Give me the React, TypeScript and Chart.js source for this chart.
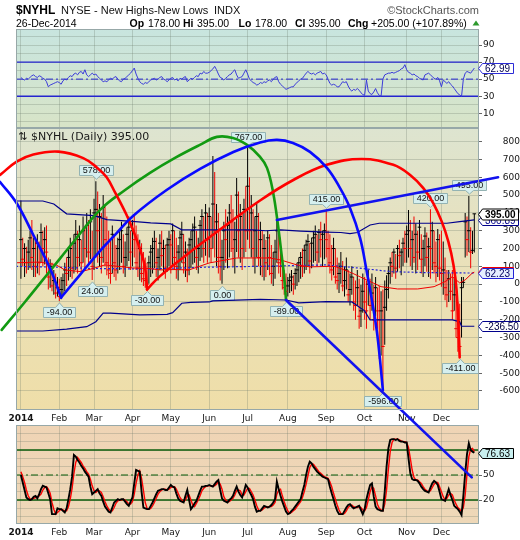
import React, { useEffect, useRef } from 'react';
import { Chart, registerables } from 'chart.js';

Chart.register(...registerables);

/* ---------- calendar (trading-day index of each month's first session) ---------- */
const MONTH_LABELS = ['2014', 'Feb', 'Mar', 'Apr', 'May', 'Jun', 'Jul', 'Aug', 'Sep', 'Oct', 'Nov', 'Dec'];
const MONTH_START = [0, 21, 40, 61, 82, 103, 124, 146, 167, 188, 211, 230];

/* ---------- daily $NYHL bars, one row per month ---------- */
const HIGH = [
  470, 260, 230, 210, 250, 300, 360, 260, 250, 280, 240, 340, 300, 320, 330, 150, 140, 120, 80, 60, 40,
  30, 40, 60, 120, 150, 200, 260, 220, 280, 360, 300, 330, 250, 380, 320, 400, 360, 420, 300,
  480, 578, 520, 450, 400, 500, 440, 380, 300, 250, 330, 280, 220, 260, 300, 350, 280, 240, 320, 380, 300,
  360, 390, 330, 280, 250, 230, 180, 150, 120, 160, 220, 260, 300, 260, 200, 280, 300, 250, 220, 260, 300,
  280, 340, 300, 260, 220, 300, 350, 280, 240, 200, 260, 300, 340, 380, 300, 260, 360, 420, 380, 450, 400,
  430, 380, 720, 630, 450, 400, 300, 250, 350, 420, 380, 450, 500, 420, 350, 596, 520, 450, 400, 480, 550,
  767, 600, 500, 420, 380, 450, 400, 350, 300, 280, 250, 300, 280, 220, 180, 250, 360, 300, 260, 150, 80, 60,
  40, 60, 80, 50, 90, 120, 150, 180, 200, 220, 250, 280, 230, 260, 300, 330, 280, 310, 350, 300, 340,
  415, 300, 280, 220, 260, 200, 150, 120, 180, 130, 100, 150, 80, 60, 100, 40, 20, 80, 30, 0, 60,
  40, 20, 80, 30, 60, 0, 40, -20, -10, -40, -30, 20, 50, 100, 150, 180, 200, 170, 220, 250, 200, 260, 300,
  330, 416, 360, 300, 380, 340, 300, 360, 280, 250, 320, 290, 260, 420, 350, 300, 240, 310, 280,
  300, 240, 150, 80, 80, 60, 80, 40, 0, -100, -110, 40, 40, 400, 380, 495, 320, 300, 395,
];
const LOW = [
  30, 100, 40, 60, 80, 90, 80, 40, 40, 60, 50, 120, 100, 110, 60, -30, -20, -40, -60, -80, -70,
  -94, -85, -60, -40, -10, 20, 40, 30, 60, 80, 60, 100, 70, 120, 90, 150, 110, 140, 24,
  80, 150, 120, 100, 60, 120, 100, 50, 30, 0, 60, 40, 20, 60, 80, 120, 60, 40, 100, 130, 80,
  100, 150, 80, 40, 20, 10, -10, -20, -30, 0, 40, 60, 90, 40, 20, 80, 100, 60, 30, 70, 100,
  60, 100, 80, 30, 20, 80, 120, 60, 40, 10, 50, 90, 110, 120, 80, 60, 130, 150, 120, 160, 120,
  150, 120, 200, 150, 100, 60, 20, 0, 80, 120, 90, 150, 180, 100, 60, 180, 150, 120, 80, 150, 180,
  250, 200, 150, 100, 60, 150, 100, 50, 40, 20, 40, 80, 50, 0, -10, 30, 120, 60, 40, -30, -60, -89,
  -70, -50, -40, -60, -30, -10, 10, 30, 40, 60, 80, 100, 60, 90, 120, 130, 100, 120, 150, 100, 140,
  150, 100, 60, 20, 50, 0, -30, -50, 0, -40, -70, -30, -100, -120, -60, -150, -200, -120, -250, -240, -160,
  -200, -250, -120, -200, -150, -260, -180, -250, -420, -400, -596, -340, -150, -80, 0, 40, 60, 30, 70, 90, 50, 100, 120,
  120, 150, 100, 80, 120, 60, 80, 140, 60, 40, 100, 70, 40, 30, 80, 60, 10, 40, 20,
  -15, -60, -90, -130, -100, -90, -200, -150, -300, -380, -411, -300, -20, 150, 160, 180, 90, 170, 178,
];
const CLOSE = [
  250, 140, 200, 120, 180, 260, 150, 200, 100, 230, 120, 290, 200, 250, 180, 40, 100, -10, 20, -50, -20,
  -70, -30, 20, 80, 60, 150, 200, 90, 230, 280, 150, 250, 120, 300, 200, 330, 180, 350, 100,
  400, 420, 300, 380, 150, 430, 250, 120, 80, 60, 280, 120, 80, 200, 250, 300, 100, 150, 280, 320, 180,
  300, 250, 120, 90, 200, 60, 30, 20, 0, 120, 180, 200, 240, 120, 150, 230, 160, 200, 90, 220, 250,
  220, 300, 150, 100, 180, 260, 280, 120, 180, 80, 220, 250, 300, 320, 150, 200, 330, 380, 200, 400, 250,
  380, 200, 450, 300, 350, 150, 100, 150, 300, 250, 330, 400, 350, 200, 250, 500, 300, 380, 200, 420, 300,
  550, 300, 400, 200, 300, 380, 150, 250, 100, 200, 120, 260, 150, 60, 100, 180, 300, 120, 100, 20, -20, -40,
  -10, 20, 40, 0, 60, 80, 120, 150, 100, 190, 220, 240, 130, 230, 260, 280, 180, 290, 250, 280, 300,
  250, 200, 120, 80, 200, 40, 20, 60, 100, -10, 20, 80, -60, -30, 40, -100, -120, -20, -180, -150, -40,
  -100, -150, 0, -120, -50, -200, -20, -150, -200, -150, -350, -130, -30, 60, 120, 100, 180, 90, 200, 160, 180, 230, 200,
  280, 300, 200, 250, 150, 280, 180, 320, 140, 200, 270, 150, 210, 200, 300, 120, 100, 250, 90,
  60, 80, -20, -60, 30, -40, -150, -60, -250, -300, -350, -20, 10, 350, 250, 300, 180, 190, 395,
];
const LAST_OPEN = 178;

/* sessions whose high / low carry a value callout */
const HIGH_MARKS = [41, 124, 167, 224, 245];
const LOW_MARKS = [21, 39, 69, 110, 145, 198, 240];

/* ---------- overlays: day index and value ---------- */
const UPPER_AT = [-2.68, 12, 18, 25, 40, 47, 61, 71, 82, 88, 127, 134, 142, 153, 167, 175, 180, 184, 191, 196, 233, 240, 248];
const UPPER_VAL = [467, 467, 450, 395, 385, 362, 352, 344, 338, 305, 305, 300, 305, 298, 292, 290, 284, 290, 332, 342, 342, 351, 360.89];
const LOWER_AT = [-2.68, 12, 25, 36, 41, 45, 49, 65, 80, 83, 88, 93, 103, 105, 131, 145, 152, 167, 181, 188, 191, 236, 240, 241, 248];
const LOWER_VAL = [-263, -263, -253, -239, -211, -163, -163, -173, -170, -160, -107, -102, -100, -94, -85, -89, -105, -98, -100, -150, -201, -201, -211, -236.5, -236.5];
const MA_AT = [-2.68, 10, 19, 24, 33, 40, 46, 61, 70, 76, 84, 92, 103, 118, 136, 142, 151, 158, 169, 172, 181, 188, 197, 206, 217, 226, 232, 236, 240, 243, 247, 248];
const MA_VAL = [120, 124, 110, 80, 70, 90, 108, 91, 88, 80, 82, 80, 119, 147, 147, 136, 108, 97, 100, 99, 63, 29, -14, -27, -27, -14, 14, 42, 7, 24, 63, 67.4];
const MID_AT = [-2.68, 20, 40, 70, 100, 130, 167, 184, 203, 221, 248];
const MID_VAL = [100, 95, 88, 85, 95, 100, 108, 91, 70, 65, 62.23];

/* ---------- drawn arcs and trendlines: [day index, value] ---------- */
const ARC_RED_1 = [
  [-11.4, 613], [-2.3, 688], [6.8, 728], [20.5, 744], [34.1, 708], [41.5, 655], [46.9, 600],
  [51.5, 515], [57.5, 395], [61.5, 300], [65.2, 195], [67.9, 95], [69, LOW[69]],
];
const ARC_RED_2 = [
  [69, LOW[69]], [76.1, 45], [90, 160], [110, 315], [130.8, 470], [149, 585], [167.3, 670], [186.4, 703],
  [203.7, 670], [212.9, 613], [220.1, 539], [225.6, 454], [230.2, 351], [233.8, 239], [236.6, 108],
  [238.3, -33], [240, LOW[240]],
];
const ARC_GREEN = [
  [-10.5, -257], [2.2, -100], [15.9, 74], [29.6, 248], [43.3, 417], [57, 529], [70.6, 625], [84.3, 709],
  [97.9, 782], [107.2, 827], [116, 821], [123.7, 782], [130.8, 715], [134.6, 653], [137.9, 518],
  [140.6, 333], [142.8, 147], [143.9, 52], [145, LOW[145]],
];
const ARC_BLUE_LEFT = [[-11.4, 574], [-2.3, 454], [6.8, 276], [15.9, 89], [22, -75]];
const ARC_BLUE = [
  [22, -75], [32.3, 52], [43.3, 187], [52, 282], [61.3, 383], [79.7, 529], [98, 647], [116.2, 742],
  [130.8, 796], [140.1, 810], [148.8, 793], [158.1, 743], [167.4, 653], [174.5, 541], [180, 428],
  [185.5, 260], [189, 80], [192, -90], [195, -290], [198, LOW[198]],
];
const TREND_UP = [[140, 360], [261, 600]];
const TREND_DOWN = [[145, LOW[145]], [246.6, -1085]];

/* ---------- RSI(14) ---------- */
const RSI = [
  52, 50, 49, 51, 50, 52, 54, 55, 53, 52, 54, 53, 51, 50, 47, 41, 43, 44, 45, 46, 47,
  46, 44, 48, 50, 49, 52, 54, 53, 56, 57, 55, 58, 59, 56, 61, 55, 53, 55, 57,
  55, 56, 53, 51, 49, 47, 48, 47, 49, 51, 50, 52, 53, 50, 48, 47, 50, 51, 53, 55, 57,
  60, 63, 56, 51, 47, 45, 44, 46, 45, 47, 49, 50, 51, 49, 50, 52, 53, 50, 49, 47, 49,
  51, 52, 49, 50, 48, 51, 50, 52, 53, 47, 49, 51, 50, 52, 54, 53, 57, 56, 59, 57, 57,
  58, 60, 62, 65, 61, 56, 52, 51, 49, 51, 53, 55, 56, 59, 61, 55, 51, 52, 53, 57, 61,
  56, 50, 48, 46, 45, 43, 44, 46, 45, 47, 46, 48, 49, 47, 50, 52, 53, 47, 44, 42, 40, 38,
  39, 40, 41, 41, 44, 46, 48, 50, 51, 54, 57, 59, 57, 56, 57, 55, 57, 58, 59, 56, 57,
  55, 50, 45, 43, 44, 43, 41, 41, 44, 47, 46, 47, 42, 38, 36, 38, 37, 39, 37, 34, 32,
  31, 49, 36, 33, 32, 35, 39, 34, 31, 30, 50, 55, 56, 57, 57, 58, 57, 58, 59, 60, 62, 63, 67,
  61, 58, 57, 55, 56, 54, 53, 51, 50, 49, 55, 56, 57, 55, 53, 51, 50, 52, 48,
  41, 49, 47, 45, 47, 44, 42, 39, 36, 33, 31.6, 29.6, 50, 57, 59, 58, 57, 60, 62.99,
];

/* ---------- slow stochastic %K / %D ---------- */
const STO_K = [
  50, 41, 32, 23, 21, 20, 21, 24, 25, 22, 27, 33, 37, 36, 35, 28, 21, 3, 3, 3, 10,
  9, 9, 7, 5, 10, 21, 33, 48, 74, 72, 68, 65, 61, 58, 54, 51, 48, 36, 27,
  29, 31, 33, 28, 25, 18, 12, 9, 6, 5, 11, 17, 19, 21, 20, 21, 21, 18, 15, 13, 18,
  23, 40, 56, 55, 54, 30, 11, 10, 9, 9, 13, 17, 22, 27, 31, 32, 33, 33, 32, 32, 35,
  38, 36, 35, 28, 22, 19, 18, 17, 25, 32, 20, 9, 12, 16, 19, 25, 31, 36, 36, 37, 37,
  38, 37, 36, 39, 42, 44, 32, 22, 19, 18, 17, 20, 22, 25, 31, 36, 30, 26, 23, 30, 38,
  35, 30, 26, 21, 12, 6, 7, 7, 10, 13, 12, 11, 12, 14, 17, 21, 42, 33, 25, 18, 12, 6,
  3, 4, 7, 9, 12, 15, 18, 21, 30, 38, 50, 60, 66, 64, 60, 57, 54, 52, 50, 48, 47,
  46, 45, 36, 28, 21, 13, 7, 3, 3, 3, 7, 11, 14, 15, 12, 10, 11, 12, 13, 8, 3,
  9, 21, 30, 38, 40, 24, 12, 9, 8, 7, 7, 30, 60, 82, 92, 93, 93, 92, 93, 91, 90, 90, 89,
  89, 70, 52, 45, 44, 44, 43, 40, 36, 33, 31, 30, 29, 35, 40, 43, 41, 38, 30,
  21, 20, 19, 26, 33, 26, 20, 13, 11, 9, 6, 2, 25, 52, 75, 88, 80, 78, 76.63,
];
const STO_D = [
  54, 48, 41, 32, 25, 21, 21, 22, 23, 24, 25, 27, 32, 35, 36, 33, 28, 17, 9, 3, 5,
  7, 9, 8, 7, 7, 12, 21, 34, 52, 65, 71, 68, 65, 61, 58, 54, 51, 45, 37,
  31, 29, 31, 31, 29, 24, 18, 13, 9, 7, 7, 11, 16, 19, 20, 20, 21, 20, 18, 15, 15,
  18, 27, 40, 50, 55, 46, 32, 17, 10, 9, 10, 13, 17, 22, 27, 30, 32, 33, 33, 32, 33,
  35, 36, 36, 33, 28, 23, 20, 18, 20, 25, 26, 20, 14, 12, 16, 20, 25, 31, 34, 36, 37,
  37, 37, 37, 37, 39, 42, 39, 33, 24, 20, 18, 18, 20, 22, 26, 31, 32, 31, 26, 26, 30,
  34, 34, 30, 26, 20, 13, 8, 7, 8, 10, 12, 12, 12, 12, 14, 17, 27, 32, 33, 25, 18, 12,
  7, 4, 5, 7, 9, 12, 15, 18, 23, 30, 39, 49, 59, 63, 63, 60, 57, 54, 52, 50, 48,
  47, 46, 42, 36, 28, 21, 14, 8, 4, 3, 4, 7, 11, 13, 14, 12, 11, 11, 12, 11, 8,
  7, 11, 20, 30, 36, 34, 25, 15, 10, 8, 7, 15, 32, 57, 78, 89, 93, 93, 93, 92, 91, 90, 90,
  89, 83, 70, 56, 47, 44, 44, 42, 40, 36, 33, 31, 30, 31, 35, 39, 41, 41, 36,
  30, 24, 20, 22, 26, 28, 26, 20, 15, 11, 9, 6, 11, 26, 51, 72, 81, 82, 78,
];

/* ---------- axis ticks ---------- */
const MAIN_TICKS = [-600, -500, -400, -300, -200, -100, 0, 100, 200, 300, 400, 500, 600, 700, 800];
const PCT_TICKS = [0, 10, 20, 30, 40, 50, 60, 70, 80, 90, 100];
const RSI_LABELS = [10, 30, 50, 70, 90];
const RSI_BANDS = [30, 70];
const STO_LABELS = [20, 50];
const STO_BANDS = [20, 80];

/* ---------- shared look ---------- */
const X_MIN = -2.68;
const X_MAX = 250.56;
const VERDANA = '"DejaVu Sans", Verdana, sans-serif';
const ARIAL = '"Liberation Sans", Arial, sans-serif';
const GRID = 'rgba(105,120,105,0.27)';
const FRAME = '#97a8a8';

Chart.defaults.font.family = VERDANA;

function xAxis(withLabels: boolean, height: number): any {
  return {
    type: 'linear',
    min: X_MIN,
    max: X_MAX,
    offset: false,
    bounds: 'data',
    afterBuildTicks: (s: any) => {
      s.ticks = MONTH_START.map((v) => ({ value: v }));
    },
    afterFit: (s: any) => {
      s.height = height;
    },
    grid: { color: GRID, lineWidth: 1, drawTicks: false, offset: false },
    border: { display: false },
    ticks: {
      display: withLabels,
      autoSkip: false,
      maxRotation: 0,
      minRotation: 0,
      padding: 3,
      color: '#151515',
      font: (c: any) => ({ family: VERDANA, size: 9, weight: c.tick && c.tick.value === 0 ? 'bold' : 'normal' }),
      callback: (v: number) => {
        const k = MONTH_START.indexOf(v);
        return k >= 0 ? MONTH_LABELS[k] : '';
      },
    },
  };
}

function yAxis(min: number, max: number, ticks: number[], labelled: (v: number) => boolean, crossAlign: string): any {
  return {
    type: 'linear',
    position: 'right',
    min,
    max,
    bounds: 'data',
    afterBuildTicks: (s: any) => {
      s.ticks = ticks.map((v) => ({ value: v }));
    },
    afterFit: (s: any) => {
      s.width = 41;
    },
    grid: {
      color: GRID,
      lineWidth: 1,
      drawTicks: true,
      tickLength: 3,
      tickColor: (c: any) => (c.tick && labelled(c.tick.value) ? '#666' : 'rgba(0,0,0,0)'),
    },
    border: { display: false },
    ticks: {
      autoSkip: false,
      padding: 1,
      color: '#151515',
      crossAlign,
      font: { family: VERDANA, size: 9 },
      callback: (v: number) => (labelled(v) ? String(v) : ''),
    },
  };
}

const baseOptions = (padding: any) => ({
  responsive: false,
  animation: false,
  devicePixelRatio: 1,
  events: [],
  layout: { padding },
  plugins: { legend: { display: false }, tooltip: { enabled: false }, title: { display: false } },
});

const lineSet = (data: any[], color: string, width: number, extra: any = {}) => ({
  type: 'line',
  data,
  borderColor: color,
  borderWidth: width,
  pointRadius: 0,
  pointHoverRadius: 0,
  pointHitRadius: 0,
  fill: false,
  tension: 0,
  ...extra,
});
const pts = (pairs: number[][]) => pairs.map(([x, y]) => ({ x, y }));
const zipPts = (xs: number[], ys: number[]) => xs.map((x, i) => ({ x, y: ys[i] }));
const level = (v: number) => [{ x: X_MIN, y: v }, { x: X_MAX, y: v }];
const series = (ys: number[]) => ys.map((y, i) => ({ x: i, y }));

function panel(id: string, stops: [number, string][]) {
  return {
    id,
    beforeDraw(chart: any) {
      const { ctx, chartArea: a } = chart;
      const g = ctx.createLinearGradient(0, a.top, 0, a.bottom);
      stops.forEach(([o, c]) => g.addColorStop(o, c));
      ctx.save();
      ctx.fillStyle = g;
      ctx.fillRect(a.left, a.top, a.right - a.left, a.bottom - a.top);
      ctx.restore();
    },
    afterDraw(chart: any) {
      const { ctx, chartArea: a } = chart;
      ctx.save();
      ctx.strokeStyle = FRAME;
      ctx.lineWidth = 1;
      ctx.strokeRect(a.left + 0.5, a.top + 0.5, a.right - a.left - 1, a.bottom - a.top - 1);
      ctx.restore();
    },
  };
}

/* value tag on the price axis, arrow pointing at the line's last value */
function tag(ctx: CanvasRenderingContext2D, xTip: number, y: number, text: string, o: any) {
  ctx.save();
  ctx.font = `${o.bold ? 'bold ' : ''}10px ${ARIAL}`;
  const w = Math.ceil(ctx.measureText(text).width) + 5;
  const h = o.bold ? 11 : 10;
  const yc = Math.round(y) + 0.5;
  const x0 = Math.round(xTip) + 4.5;
  ctx.beginPath();
  ctx.moveTo(Math.round(xTip) + 0.5, yc);
  ctx.lineTo(x0, yc - h / 2);
  ctx.lineTo(x0 + w, yc - h / 2);
  ctx.lineTo(x0 + w, yc + h / 2);
  ctx.lineTo(x0, yc + h / 2);
  ctx.closePath();
  ctx.fillStyle = o.fill;
  ctx.fill();
  ctx.lineWidth = 1;
  ctx.strokeStyle = o.stroke;
  ctx.stroke();
  ctx.fillStyle = o.color;
  ctx.textBaseline = 'middle';
  ctx.textAlign = 'left';
  ctx.fillText(text, x0 + 2.5, yc + 0.5);
  ctx.restore();
}

/* value callout for a marked high (above) or low (below) */
function callout(ctx: CanvasRenderingContext2D, x: number, yPt: number, text: string, below: boolean) {
  ctx.save();
  ctx.font = `9px ${ARIAL}`;
  const w = Math.round(ctx.measureText(text).width) + 6;
  const h = 10;
  const cx = Math.round(x) + 0.5;
  const tip = below ? yPt + 2 : yPt - 2;
  const top = Math.round(below ? tip + 4 : tip - 4 - h) + 0.5;
  const left = Math.round(x - w / 2) + 0.5;
  ctx.beginPath();
  if (below) {
    ctx.moveTo(left, top);
    ctx.lineTo(cx - 4, top);
    ctx.lineTo(cx, tip);
    ctx.lineTo(cx + 4, top);
    ctx.lineTo(left + w, top);
    ctx.lineTo(left + w, top + h);
    ctx.lineTo(left, top + h);
  } else {
    ctx.moveTo(left, top);
    ctx.lineTo(left + w, top);
    ctx.lineTo(left + w, top + h);
    ctx.lineTo(cx + 4, top + h);
    ctx.lineTo(cx, tip);
    ctx.lineTo(cx - 4, top + h);
    ctx.lineTo(left, top + h);
  }
  ctx.closePath();
  ctx.fillStyle = '#d6efef';
  ctx.fill();
  ctx.lineWidth = 1;
  ctx.strokeStyle = '#93b3b3';
  ctx.stroke();
  ctx.fillStyle = '#111';
  ctx.textAlign = 'center';
  ctx.textBaseline = 'middle';
  ctx.fillText(text, cx, top + h / 2 + 0.5);
  ctx.restore();
}

function drawHeading(ctx: CanvasRenderingContext2D) {
  const n = CLOSE.length;
  const chg = CLOSE[n - 1] - CLOSE[n - 2];
  const pct = (chg / CLOSE[n - 2]) * 100;
  const sign = (v: number) => (v >= 0 ? '+' : '');
  ctx.save();
  ctx.textBaseline = 'alphabetic';
  ctx.textAlign = 'left';
  ctx.fillStyle = '#000';
  ctx.font = `bold 12px ${ARIAL}`;
  ctx.fillText('$NYHL', 16, 14);
  ctx.font = `11px ${ARIAL}`;
  ctx.fillStyle = '#111';
  ctx.fillText('NYSE - New Highs-New Lows', 61, 14);
  ctx.fillText('INDX', 214, 14);
  ctx.fillStyle = '#555';
  ctx.textAlign = 'right';
  ctx.fillText('\u00A9StockCharts.com', 479, 14);
  ctx.textAlign = 'left';
  ctx.fillStyle = '#000';
  const row: [string, number, boolean][] = [
    ['26-Dec-2014', 16, false],
    ['Op', 129.5, true],
    [LAST_OPEN.toFixed(2), 148, false],
    ['Hi', 183, true],
    [HIGH[n - 1].toFixed(2), 197, false],
    ['Lo', 238.5, true],
    [LOW[n - 1].toFixed(2), 255, false],
    ['Cl', 295, true],
    [CLOSE[n - 1].toFixed(2), 308.5, false],
    ['Chg', 348, true],
    [`${sign(chg)}${chg.toFixed(2)} (${sign(pct)}${pct.toFixed(2)}%)`, 371, false],
  ];
  row.forEach(([t, x, b]) => {
    ctx.font = `${b ? 'bold ' : ''}10.5px ${ARIAL}`;
    ctx.fillText(t, x, 26.5);
  });
  ctx.fillStyle = '#2e9a2e';
  ctx.beginPath();
  ctx.moveTo(472.5, 25.5);
  ctx.lineTo(479.5, 25.5);
  ctx.lineTo(476, 20.5);
  ctx.closePath();
  ctx.fill();
  ctx.restore();
}

function makeRsi(canvas: HTMLCanvasElement) {
  return new Chart(canvas, {
    type: 'line',
    data: {
      datasets: [
        lineSet(series(RSI), '#3b3bd9', 1, { order: 1 }),
        ...RSI_BANDS.map((v) => lineSet(level(v), '#2525cf', 1.4, { order: 3 })),
        lineSet(level(50), '#2525cf', 1, { borderDash: [7, 3, 2, 3], order: 3 }),
      ],
    },
    options: {
      ...baseOptions({ left: 16, right: 0, top: 29, bottom: 10 }),
      scales: {
        x: xAxis(false, 0),
        y: yAxis(-7.3, 108.8, PCT_TICKS, (v) => RSI_LABELS.includes(v), 'near'),
      },
    } as any,
    plugins: [
      panel('rsiPanel', [[0, '#c8e5df'], [1, '#d8e4c7']]),
      {
        id: 'rsiTags',
        afterDraw(chart: any) {
          const { ctx, chartArea: a, scales } = chart;
          const last = RSI[RSI.length - 1];
          tag(ctx, a.right - 1, scales.y.getPixelForValue(last), last.toFixed(2), {
            fill: '#ffffff', stroke: '#2b2bd6', color: '#000050',
          });
          drawHeading(ctx);
        },
      },
    ],
  } as any);
}

function makeStoch(canvas: HTMLCanvasElement) {
  return new Chart(canvas, {
    type: 'line',
    data: {
      datasets: [
        lineSet(series(STO_K), '#000000', 1.9, { order: 1 }),
        lineSet(series(STO_D), '#ff0000', 1.4, { order: 2 }),
        ...STO_BANDS.map((v) => lineSet(level(v), '#0b5c0b', 1.3, { order: 4 })),
        lineSet(level(50), '#0b5c0b', 1, { borderDash: [7, 3, 2, 3], order: 4 }),
      ],
    },
    options: {
      ...baseOptions({ left: 16, right: 0, top: 11, bottom: 2 }),
      scales: {
        x: xAxis(true, 14),
        y: yAxis(-8.8, 110, PCT_TICKS, (v) => STO_LABELS.includes(v), 'near'),
      },
    } as any,
    plugins: [
      panel('stoPanel', [[0, '#efd4b5'], [1, '#eed8b8']]),
      {
        id: 'stoTags',
        afterDraw(chart: any) {
          const { ctx, chartArea: a, scales } = chart;
          const last = STO_K[STO_K.length - 1];
          tag(ctx, a.right - 1, scales.y.getPixelForValue(last), last.toFixed(2), {
            fill: '#c9f0f0', stroke: '#000000', color: '#000000',
          });
        },
      },
    ],
  } as any);
}

function makeMain(canvas: HTMLCanvasElement) {
  const barColors = CLOSE.map((c, i) => (i > 0 && c < CLOSE[i - 1] ? '#f00000' : '#000000'));
  const arc = (pairs: number[][], color: string, order: number) =>
    lineSet(pts(pairs), color, 2.6, {
      tension: 0.4,
      capBezierPoints: false,
      clip: false,
      order,
      borderCapStyle: 'round',
      borderJoinStyle: 'round',
    });
  const trend = (pairs: number[][]) =>
    lineSet(pts(pairs), '#1212ee', 2.6, { clip: false, order: 1, borderCapStyle: 'round' });

  return new Chart(canvas, {
    type: 'bar',
    data: {
      datasets: [
        {
          type: 'bar',
          data: HIGH.map((h, i) => ({ x: i, y: [LOW[i], h] })),
          backgroundColor: barColors,
          borderWidth: 0,
          barThickness: 1,
          grouped: false,
          inflateAmount: 0,
          order: 20,
        },
        {
          type: 'line',
          data: series(CLOSE),
          showLine: false,
          pointStyle: 'line',
          pointRadius: 1.8,
          pointHoverRadius: 1.8,
          pointBorderWidth: 1,
          pointBorderColor: barColors,
          pointBackgroundColor: barColors,
          order: 19,
        },
        lineSet(zipPts(MID_AT, MID_VAL), '#2323d6', 1.2, { borderDash: [2, 2], order: 12 }),
        lineSet(zipPts(MA_AT, MA_VAL), '#f00000', 1, { order: 11 }),
        lineSet(zipPts(UPPER_AT, UPPER_VAL), '#00008c', 1.2, { order: 10 }),
        lineSet(zipPts(LOWER_AT, LOWER_VAL), '#00008c', 1.2, { order: 10 }),
        arc(ARC_GREEN, '#129a12', 6),
        arc(ARC_RED_1, '#ff0000', 5),
        arc(ARC_RED_2, '#ff0000', 5),
        arc(ARC_BLUE_LEFT, '#0a0aff', 4),
        arc(ARC_BLUE, '#0a0aff', 4),
        trend(TREND_UP),
        trend(TREND_DOWN),
      ],
    },
    options: {
      ...baseOptions({ left: 16, right: 0, top: 10, bottom: 115 }),
      scales: {
        x: xAxis(true, 15),
        y: yAxis(-706.7, 876.9, MAIN_TICKS, () => true, 'far'),
      },
    } as any,
    plugins: [
      panel('mainPanel', [[0, '#dde4d0'], [0.45, '#e9e1bb'], [1, '#efdea8']]),
      {
        id: 'mainMarks',
        afterDatasetDraw(chart: any, args: any) {
          if (args.index !== 1) return;
          const { ctx, scales } = chart;
          HIGH_MARKS.forEach((i) =>
            callout(ctx, scales.x.getPixelForValue(i), scales.y.getPixelForValue(HIGH[i]), HIGH[i].toFixed(2), false),
          );
          LOW_MARKS.forEach((i) =>
            callout(ctx, scales.x.getPixelForValue(i), scales.y.getPixelForValue(LOW[i]), LOW[i].toFixed(2), true),
          );
        },
        afterDraw(chart: any) {
          const { ctx, chartArea: a, scales } = chart;
          const yv = (v: number) => scales.y.getPixelForValue(v);
          const tip = a.right - 1;
          const up = UPPER_VAL[UPPER_VAL.length - 1];
          const ma = MA_VAL[MA_VAL.length - 1];
          const mid = MID_VAL[MID_VAL.length - 1];
          const lo = LOWER_VAL[LOWER_VAL.length - 1];
          const cl = CLOSE[CLOSE.length - 1];
          tag(ctx, tip, yv(up), up.toFixed(2), { fill: '#ffffff', stroke: '#00008c', color: '#00008c' });
          tag(ctx, tip, yv(cl), cl.toFixed(2), { fill: '#ffffff', stroke: '#000000', color: '#000000', bold: true });
          tag(ctx, tip, yv(ma), ma.toFixed(2), { fill: '#ffffff', stroke: '#f00000', color: '#b00000' });
          tag(ctx, tip, yv(mid), mid.toFixed(2), { fill: '#e6eeff', stroke: '#2323d6', color: '#000060' });
          tag(ctx, tip, yv(lo), lo.toFixed(2), { fill: '#ffffff', stroke: '#00008c', color: '#000040' });

          // panel caption, just inside the top-left corner of the price panel
          ctx.save();
          ctx.fillStyle = '#1a1a1a';
          ctx.textBaseline = 'alphabetic';
          ctx.textAlign = 'left';
          ctx.font = `11px ${VERDANA}`;
          const base = a.top + 11.5;
          ctx.fillText('\u21C5', a.left + 2, base);
          ctx.fillText(`$NYHL (Daily) ${cl.toFixed(2)}`, a.left + 15, base);
          ctx.restore();
        },
      },
    ],
  } as any);
}

export default function App() {
  const rsiRef = useRef<HTMLCanvasElement>(null);
  const mainRef = useRef<HTMLCanvasElement>(null);
  const stoRef = useRef<HTMLCanvasElement>(null);

  useEffect(() => {
    const charts = [
      makeRsi(rsiRef.current as HTMLCanvasElement),
      makeStoch(stoRef.current as HTMLCanvasElement),
      makeMain(mainRef.current as HTMLCanvasElement),
    ];
    return () => charts.forEach((c) => c.destroy());
  }, []);

  return (
    <div
      style={{
        position: 'absolute',
        left: 0,
        top: 0,
        width: 520,
        height: 540,
        background: '#ffffff',
        overflow: 'hidden',
      }}
    >
      <canvas ref={rsiRef} width={520} height={138} style={{ position: 'absolute', left: 0, top: 0 }} />
      <canvas ref={stoRef} width={520} height={126} style={{ position: 'absolute', left: 0, top: 414 }} />
      <canvas ref={mainRef} width={520} height={422} style={{ position: 'absolute', left: 0, top: 118 }} />
    </div>
  );
}
